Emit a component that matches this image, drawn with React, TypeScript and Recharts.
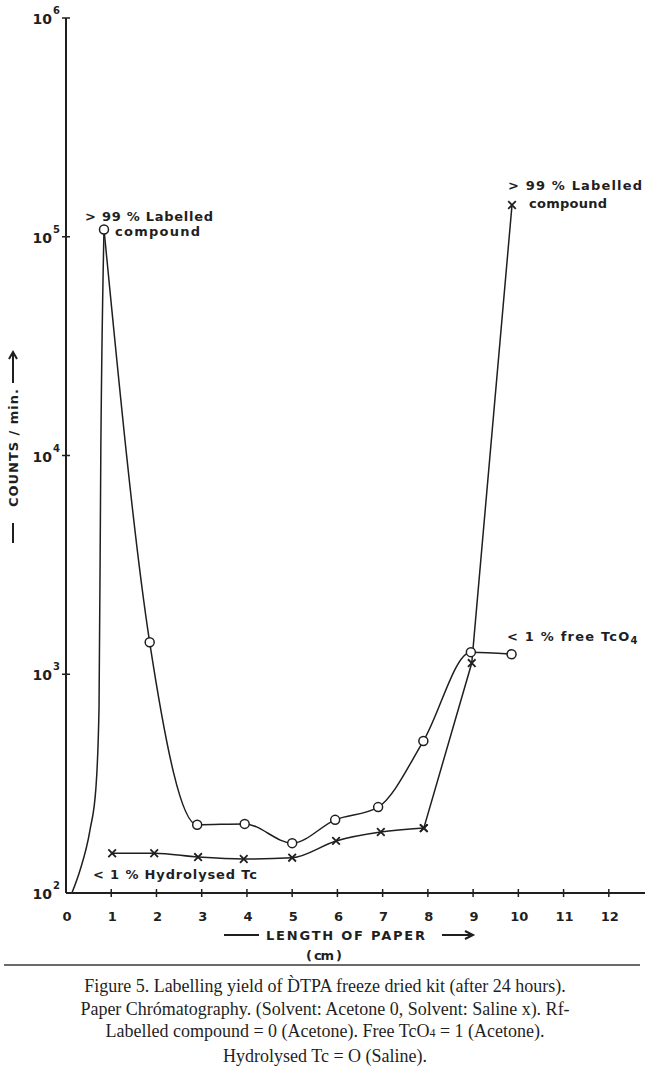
import React from "react";
import { LineChart, Line, XAxis, YAxis } from "recharts";

// Acetone run (open circles), Rf in cm vs counts/min
const acetoneX = [0.84, 1.85, 2.9, 3.95, 5.0, 5.95, 6.9, 7.9, 8.95, 9.85];
const acetoneY = [108000, 1400, 205, 207, 169, 216, 247, 495, 1262, 1235];

// steep rise of the acetone trace from the origin to its peak (no markers)
const riseX = [0.13, 0.31, 0.53, 0.66, 0.73, 0.77, 0.84];
const riseY = [100, 127, 194, 300, 700, 10600, 108000];

// Saline run (crosses)
const salineX = [1.02, 1.95, 2.92, 3.93, 5.0, 5.97, 6.96, 7.91, 8.97, 9.86];
const salineY = [152, 152, 146, 143, 145, 173, 190, 198, 1125, 139700];

const xTicks = [0, 1, 2, 3, 4, 5, 6, 7, 8, 9, 10, 11, 12];
const yTicks = [100, 1000, 10000, 100000, 1000000];

const captionLines = [
  "Figure 5. Labelling yield of D\u0300TPA freeze dried kit (after 24 hours).",
  "Paper Chr\u00f3matography. (Solvent: Acetone 0, Solvent: Saline x). Rf-",
  "Labelled compound = 0 (Acetone). Free TcO",
  "Hydrolysed Tc = O (Saline).",
];

const INK = "#1f1f1f";
const LETTER = "'DejaVu Sans', 'Noto Sans', sans-serif";

const rows = (xs: number[], ys: number[]) => xs.map((x, i) => ({ x, y: ys[i] }));

const acetoneRows = rows(acetoneX, acetoneY);
const riseRows = rows(riseX, riseY);
const salineSmooth = rows(salineX.slice(0, 8), salineY.slice(0, 8));
const salineSteep = rows(salineX.slice(7), salineY.slice(7));

function CircleDot(p: any) {
  return (
    <circle
      key={`c-${p.index}`}
      cx={p.cx}
      cy={p.cy}
      r={4.5}
      fill="#fff"
      stroke={INK}
      strokeWidth={1.5}
    />
  );
}

function CrossDot(p: any) {
  const s = 3.8;
  return (
    <path
      key={`x-${p.index}`}
      d={`M${p.cx - s},${p.cy - s}L${p.cx + s},${p.cy + s}M${p.cx - s},${p.cy + s}L${p.cx + s},${p.cy - s}`}
      stroke={INK}
      strokeWidth={1.8}
      fill="none"
    />
  );
}

function XTick(props: any) {
  const { x, y, payload } = props;
  const v = payload.value;
  return (
    <g>
      {v > 0 && <line x1={x} x2={x} y1={y - 4} y2={y + 4} stroke={INK} strokeWidth={1.5} />}
      <text
        x={x + 1}
        y={y + 28}
        textAnchor="middle"
        fontFamily={LETTER}
        fontWeight="bold"
        fontSize={13}
        fill={INK}
      >
        {v}
      </text>
    </g>
  );
}

function YTick(props: any) {
  const { x, y, payload } = props;
  const exp = Math.round(Math.log10(payload.value));
  return (
    <g>
      {exp > 2 && <line x1={x - 4} x2={x + 4} y1={y} y2={y} stroke={INK} strokeWidth={1.5} />}
      <text x={x - 14} y={y + 6} textAnchor="end" fontFamily={LETTER} fontWeight="bold" fontSize={14} fill={INK}>
        10
      </text>
      <text x={x - 13} y={y - 4} fontFamily={LETTER} fontWeight="bold" fontSize={10} fill={INK}>
        {exp}
      </text>
    </g>
  );
}

const note = {
  fontFamily: LETTER,
  fontWeight: "bold" as const,
  fontSize: 13,
  fill: INK,
};

export default function App() {
  return (
    <div style={{ position: "absolute", left: 0, top: 0, width: 650, height: 1082, background: "#fff" }}>
      <LineChart width={650} height={1082} margin={{ top: 18, right: 5, left: 6, bottom: 159 }}>
        <XAxis
          dataKey="x"
          type="number"
          domain={[0, 12.8]}
          ticks={xTicks}
          interval={0}
          height={30}
          tickSize={0}
          tickMargin={0}
          tickLine={false}
          axisLine={{ stroke: INK, strokeWidth: 2 }}
          tick={<XTick />}
        />
        <YAxis
          type="number"
          scale="log"
          domain={[100, 1000000]}
          ticks={yTicks}
          interval={0}
          allowDataOverflow
          width={60}
          tickSize={0}
          tickMargin={0}
          tickLine={false}
          axisLine={{ stroke: INK, strokeWidth: 2 }}
          tick={<YTick />}
        />
        <Line
          data={riseRows}
          dataKey="y"
          type="monotoneX"
          stroke={INK}
          strokeWidth={1.5}
          dot={false}
          isAnimationActive={false}
        />
        <Line
          data={salineSmooth}
          dataKey="y"
          type="monotoneX"
          stroke={INK}
          strokeWidth={1.5}
          dot={CrossDot}
          isAnimationActive={false}
        />
        <Line
          data={salineSteep}
          dataKey="y"
          type="linear"
          stroke={INK}
          strokeWidth={1.5}
          dot={CrossDot}
          isAnimationActive={false}
        />
        <Line
          data={acetoneRows}
          dataKey="y"
          type="monotoneX"
          stroke={INK}
          strokeWidth={1.5}
          dot={CircleDot}
          isAnimationActive={false}
        />
      </LineChart>

      <svg
        width={650}
        height={1082}
        style={{ position: "absolute", left: 0, top: 0, pointerEvents: "none" }}
      >
        <text {...note} x={85} y={221} textLength={128} lengthAdjust="spacing">
          {"> 99 % Labelled"}
        </text>
        <text {...note} x={115} y={236} textLength={85} lengthAdjust="spacing">
          compound
        </text>
        <text {...note} x={508} y={190} textLength={134} lengthAdjust="spacing">
          {"> 99 % Labelled"}
        </text>
        <text {...note} x={529} y={208} textLength={78} lengthAdjust="spacing">
          compound
        </text>
        <text {...note} x={507} y={641} letterSpacing={1.2}>
          {"< 1 % free TcO"}
          <tspan dy={3} fontSize={10}>
            4
          </tspan>
        </text>
        <text {...note} x={93} y={879} textLength={164} lengthAdjust="spacing">
          {"< 1 % Hydrolysed Tc"}
        </text>

        {/* y axis title */}
        <g transform="translate(13,448) rotate(-90)">
          <line x1={-95} x2={-75} y1={0} y2={0} stroke={INK} strokeWidth={2} />
          <text {...note} x={0} y={4.5} textAnchor="middle" textLength={118} lengthAdjust="spacing">
            COUNTS / min.
          </text>
          <path d="M65,0H96M89,-4L96,0L89,4" stroke={INK} strokeWidth={2} fill="none" />
        </g>

        {/* x axis title */}
        <line x1={224} x2={259} y1={935} y2={935} stroke={INK} strokeWidth={2} />
        <text {...note} x={266} y={940} textLength={159} lengthAdjust="spacing">
          LENGTH OF PAPER
        </text>
        <path d="M442,935H473M465,931L473,935L465,939" stroke={INK} strokeWidth={2} fill="none" />
        <text {...note} x={306} y={960} textLength={36} lengthAdjust="spacing">
          ( cm )
        </text>

        <line x1={4} x2={640} y1={965} y2={965} stroke="#6a6a6a" strokeWidth={2} />
      </svg>

      <div
        style={{
          position: "absolute",
          left: 0,
          top: 975,
          width: 650,
          textAlign: "center",
          fontFamily: "'Liberation Serif', 'Times New Roman', serif",
          fontSize: 18,
          lineHeight: "22.5px",
          color: INK,
        }}
      >
        <div>{captionLines[0]}</div>
        <div>{captionLines[1]}</div>
        <div>
          {captionLines[2]}
          <span style={{ fontSize: 12 }}>4</span>
          {" = 1 (Acetone)."}
        </div>
        <div>{captionLines[3]}</div>
      </div>
    </div>
  );
}
